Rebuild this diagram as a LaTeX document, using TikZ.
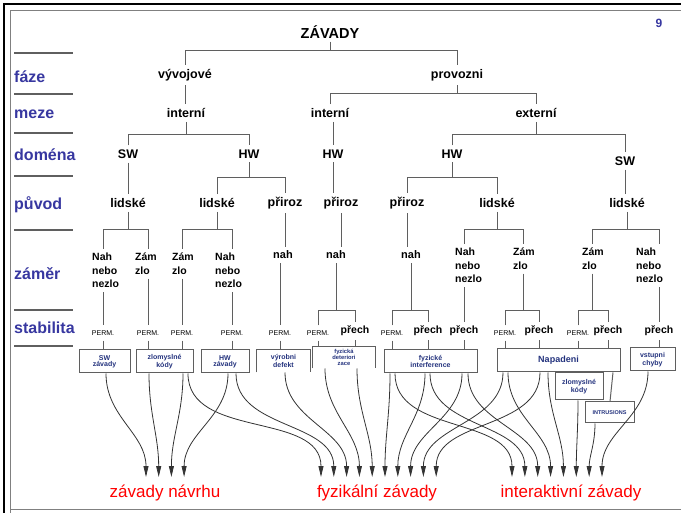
\documentclass[tikz,border=0pt]{standalone}
\usepackage{fontspec}
\setmainfont{Liberation Sans}
\usetikzlibrary{arrows.meta}

\definecolor{labblue}{RGB}{55,55,160}
\definecolor{linegray}{RGB}{95,95,95}
\definecolor{boxtext}{RGB}{35,50,125}

\tikzset{
  lvl/.style={font=\fontsize{16}{16}\selectfont\bfseries, text=labblue, anchor=west, inner sep=0pt},
  tn/.style={font=\fontsize{12.5}{14}\selectfont\bfseries, inner xsep=1pt, inner ysep=4pt},
  zm/.style={font=\fontsize{10.5}{13.5}\selectfont\bfseries, align=left, anchor=north west, inner xsep=0pt, inner ysep=4pt},
  nahbox/.style={font=\fontsize{11}{12}\selectfont\bfseries, inner xsep=1pt, inner ysep=4pt},
  perm/.style={font=\fontsize{7}{7}\selectfont, inner xsep=1pt, inner ysep=5pt},
  pch/.style={font=\fontsize{10.5}{12}\selectfont\bfseries, inner xsep=1pt, inner ysep=4pt},
  tree/.style={draw=linegray, line width=1pt},
  fbox/.style={draw=linegray, line width=1pt, minimum height=23pt, inner sep=1pt,
    font=\fontsize{7}{6}\selectfont\bfseries, text=boxtext, align=center},
  flow/.style={draw=black!80, line width=0.8pt, -{Triangle[width=5pt,length=11pt]}, out=-90, in=90},
  goal/.style={font=\fontsize{17}{17}\selectfont, text=red}
}

\begin{document}
\begin{tikzpicture}[x=1pt,y=-1pt]
  \useasboundingbox (0,0) rectangle (681,513);

  % frame
  \draw[line width=2.5pt] (4,513) -- (4,4) -- (681,4);
  \draw[gray, line width=0.8pt] (10,513) -- (10,10) -- (681,10);
  \draw[gray, line width=0.8pt] (10,509) -- (681,509);

  % row labels and separators
  \foreach \y in {53,94,133,176,230,310,346}
    \draw[linegray, line width=1.2pt] (14,\y) -- (73,\y);
  \node[lvl] (rf) at (14,77) {fáze};
  \node[lvl] (rm) at (14,114) {meze};
  \node[lvl] (rd) at (14,155) {doména};
  \node[lvl] (rp) at (14,205) {původ};
  \node[lvl] (rz) at (14,274) {záměr};
  \node[lvl] (rs) at (14,328) {stabilita};

  \node[font=\fontsize{14.5}{16}\selectfont\bfseries, inner ysep=3pt] (zav) at (330,32) {ZÁVADY};
  \node[font=\fontsize{12}{12}\selectfont\bfseries, text=labblue] (num) at (659,23) {9};

  % tree nodes
  \node[tn] (vyv) at (185,75) {vývojové};
  \node[tn] (prov) at (457,75) {provozni};
  \node[tn] (int1) at (186,113) {interní};
  \node[tn] (int2) at (330,113) {interní};
  \node[tn] (ext) at (536,113) {externí};
  \node[tn] (sw1) at (128,154) {SW};
  \node[tn] (hw1) at (249,154) {HW};
  \node[tn] (hw2) at (333,154) {HW};
  \node[tn] (hw3) at (452,154) {HW};
  \node[tn] (sw2) at (625,161) {SW};
  \node[tn] (lid1) at (128,203) {lidské};
  \node[tn] (lid2) at (217,203) {lidské};
  \node[tn] (pri1) at (285,203) {přiroz};
  \node[tn] (pri2) at (341,203) {přiroz};
  \node[tn] (pri3) at (407,203) {přiroz};
  \node[tn] (lid3) at (497,203) {lidské};
  \node[tn] (lid4) at (627,203) {lidské};

  \node[zm] (n1) at (92,249) {Nah\\nebo\\nezlo};
  \node[zm] (z1) at (135,249) {Zám\\zlo};
  \node[zm] (z2) at (172,249) {Zám\\zlo};
  \node[zm] (n2) at (215,249) {Nah\\nebo\\nezlo};
  \node[nahbox] (nah1) at (283,255) {nah};
  \node[nahbox] (nah2) at (336,255) {nah};
  \node[nahbox] (nah3) at (411,255) {nah};
  \node[zm] (n3) at (455,244) {Nah\\nebo\\nezlo};
  \node[zm] (z3) at (513,244) {Zám\\zlo};
  \node[zm] (z4) at (582,244) {Zám\\zlo};
  \node[zm] (n4) at (636,244) {Nah\\nebo\\nezlo};

  \node[perm] (p1) at (103,333) {PERM.};
  \node[perm] (p2) at (148,333) {PERM.};
  \node[perm] (p3) at (182,333) {PERM.};
  \node[perm] (p4) at (232,333) {PERM.};
  \node[perm] (p5) at (280,333) {PERM.};
  \node[perm] (p6) at (318,333) {PERM.};
  \node[pch] (c1) at (355,331) {přech};
  \node[perm] (p7) at (392,333) {PERM.};
  \node[pch] (c2) at (428,331) {přech};
  \node[pch] (c3) at (464,331) {přech};
  \node[perm] (p8) at (505,333) {PERM.};
  \node[pch] (c4) at (539,331) {přech};
  \node[perm] (p9) at (578,333) {PERM.};
  \node[pch] (c5) at (608,331) {přech};
  \node[pch] (c6) at (659,331) {přech};

  % tree connectors
  \draw[tree] (zav.south) -- (zav.south |- 0,51);
  \draw[tree] (vyv.north) |- (prov.north |- 0,51) -- (prov.north);
  \draw[tree] (vyv.south) -- (vyv.south |- int1.north);
  \draw[tree] (prov.south) -- (prov.south |- 0,94);
  \draw[tree] (int2.north) |- (ext.north |- 0,94) -- (ext.north);
  \draw[tree] (int1.south) -- (int1.south |- 0,135);
  \draw[tree] (sw1.north) |- (hw1.north |- 0,135) -- (hw1.north);
  \draw[tree] (hw2.north |- int2.south) -- (hw2.north);
  \draw[tree] (ext.south) -- (ext.south |- 0,135);
  \draw[tree] (hw3.north) |- (sw2.north |- 0,135) -- (sw2.north);
  \draw[tree] (sw1.south) -- (lid1.north);
  \draw[tree] (hw1.south) -- (hw1.south |- 0,178);
  \draw[tree] (lid2.north) |- (pri1.north |- 0,178) -- (pri1.north);
  \draw[tree] (hw2.south) -- (hw2.south |- pri2.north);
  \draw[tree] (hw3.south) -- (hw3.south |- 0,178);
  \draw[tree] (pri3.north) |- (lid3.north |- 0,178) -- (lid3.north);
  \draw[tree] (sw2.south) -- (sw2.south |- lid4.north);

  \draw[tree] (lid1.south) -- (lid1.south |- 0,230);
  \draw[tree] (p1 |- n1.north) |- (p2 |- 0,230) -- (p2 |- z1.north);
  \draw[tree] (lid2.south) -- (lid2.south |- 0,230);
  \draw[tree] (p3 |- z2.north) |- (p4 |- 0,230) -- (p4 |- n2.north);
  \draw[tree] (pri1.south) -- (pri1.south |- nah1.north);
  \draw[tree] (pri2.south) -- (pri2.south |- nah2.north);
  \draw[tree] (pri3.south) -- (pri3.south |- nah3.north);
  \draw[tree] (lid3.south) -- (lid3.south |- 0,230);
  \draw[tree] (c3 |- n3.north) |- (z3.north |- 0,230) -- (z3.north);
  \draw[tree] (lid4.south) -- (lid4.south |- 0,230);
  \draw[tree] (z4.north) |- (c6 |- 0,230) -- (c6 |- n4.north);

  % down to stabilita
  \draw[tree] (p1 |- n1.south) -- (p1.north);
  \draw[tree] (p2 |- z1.south) -- (p2.north);
  \draw[tree] (p3 |- z2.south) -- (p3.north);
  \draw[tree] (p4 |- n2.south) -- (p4.north);
  \draw[tree] (p5 |- nah1.south) -- (p5.north);
  \draw[tree] (c3 |- n3.south) -- (c3.north);
  \draw[tree] (c6 |- n4.south) -- (c6.north);
  \draw[tree] (nah2.south) -- (nah2.south |- 0,311);
  \draw[tree] (p6.north) |- (c1.north |- 0,311) -- (c1.north);
  \draw[tree] (nah3.south) -- (nah3.south |- 0,311);
  \draw[tree] (p7.north) |- (c2.north |- 0,311) -- (c2.north);
  \draw[tree] (z3.south) -- (z3.south |- 0,311);
  \draw[tree] (p8.north) |- (c4.north |- 0,311) -- (c4.north);
  \draw[tree] (z4.south) -- (z4.south |- 0,311);
  \draw[tree] (p9.north) |- (c5.north |- 0,311) -- (c5.north);

  % fault boxes
  \node[fbox, minimum width=51pt] (b1) at (104.5,361.5) {SW\\závady};
  \node[fbox, minimum width=57pt] (b2) at (164.5,361.5) {zlomyslné\\kódy};
  \node[fbox, minimum width=48pt] (b3) at (225,361.5) {HW\\závady};
  \node[fbox, draw=none, minimum width=53pt, minimum height=22pt] (b4) at (283.5,361) {výrobni\\defekt};
  \node[fbox, draw=none, minimum width=62pt, minimum height=21pt, font=\fontsize{5.8}{6.3}\selectfont\bfseries] (b5) at (344,357.5) {fyzická\\deteriori\\zace};
  \node[fbox, minimum width=93pt] (b6) at (430.5,361.5) {fyzické\\interference};
  \node[fbox, minimum width=123pt, font=\fontsize{9}{9}\selectfont\bfseries] (b7) at (558.5,360.5) {Napadeni};
  \node[fbox, minimum width=48pt, minimum height=27pt] (b8) at (579,386.5) {zlomyslné\\kódy};
  \node[fbox, minimum width=49pt, minimum height=21pt, font=\fontsize{5.5}{6}\selectfont\bfseries] (b9) at (609.5,412.5) {INTRUSIONS};
  \node[fbox, minimum width=45pt] (b10) at (652.5,359.5) {vstupni\\chyby};
  \draw[tree] (b4.south west) -- (b4.north west) -- (b4.north east) -- (b4.south east);
  \draw[tree] (b5.south west) -- (b5.north west) -- (b5.north east) -- (b5.south east);
  \draw[tree] (b7.south -| 613,0) -- (b9.north -| 610,0);

  \foreach \s/\b in {p1/b1, p2/b2, p3/b2, p4/b3, p5/b4, p6/b5, c1/b5, p7/b6, c2/b6, c3/b6, p8/b7, c4/b7, p9/b7, c5/b7, c6/b10}
    \draw[tree, line width=0.6pt] (\s.south) -- (\s.south |- \b.north);

  % arrow targets
  \foreach \i in {0,...,3}
    \coordinate (d\i) at ({146+12.7*\i},477);
  \foreach \i in {0,...,9}
    \coordinate (f\i) at ({321+12.8*\i},477);
  \foreach \i in {0,...,7}
    \coordinate (i\i) at ({512+12.86*\i},477);

  % curves from boxes to classes
  \foreach \b/\x/\t in {b1/106/d0, b2/149/d1, b2/183/d2, b3/228/d3,
      b2/188/f0, b3/236/f1, b4/285/f2, b5/325/f3, b5/357/f4, b6/390/f5,
      b6/425/f6, b6/462/f7, b7/503/f8, b7/540/f9,
      b6/395/i0, b6/430/i1, b6/468/i2, b7/508/i3, b7/548/i4, b8/578/i5,
      b9/595/i6, b10/648/i7}
    \draw[flow] (\b.south -| \x,0) to (\t);

  % class labels
  \node[goal] (gd) at (165,493) {závady návrhu};
  \node[goal] (gf) at (377,493) {fyzikální závady};
  \node[goal] (gi) at (571,493) {interaktivní závady};
\end{tikzpicture}
\end{document}
